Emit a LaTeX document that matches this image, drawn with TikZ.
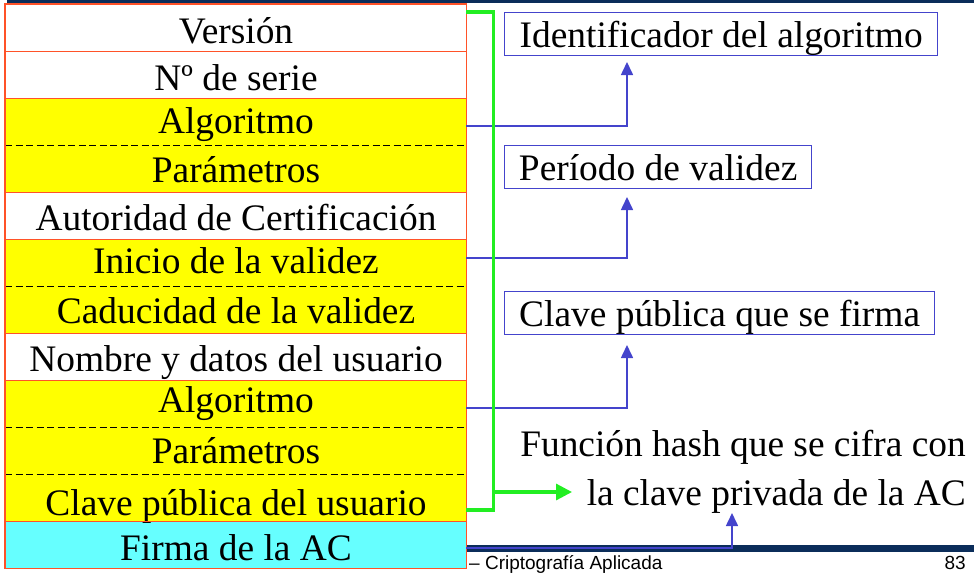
\documentclass[tikz,border=0pt]{standalone}
\usepackage{fontspec}
\setmainfont{Liberation Serif}
\newfontfamily\footfont{Liberation Sans}
\usetikzlibrary{arrows.meta}
\definecolor{rowline}{HTML}{FF5228}
\definecolor{ylw}{HTML}{FFFF00}
\definecolor{cyn}{HTML}{66FFFF}
\definecolor{blu}{HTML}{4444CC}
\definecolor{grn}{HTML}{22EE22}
\definecolor{navy}{HTML}{0B2D5A}
\begin{document}
\begin{tikzpicture}[x=1pt,y=-1pt,
  cell/.style={minimum width=461pt, minimum height=47pt, inner sep=0pt, anchor=north west},
  celltxt/.style={anchor=base, inner sep=0pt, font=\fontsize{37.4}{37.4}\selectfont},
  lbl/.style={draw=blu, line width=1.3pt, anchor=north west, inner sep=0pt, minimum height=43pt, text height=34pt, text depth=8pt, font=\fontsize{37.4}{37.4}\selectfont},
  hashtxt/.style={anchor=base east, inner sep=0pt, font=\fontsize{37.4}{37.4}\selectfont},
  foottxt/.style={inner sep=0pt, font=\footfont\fontsize{19}{19}\selectfont},
  barrow/.style={draw=blu, line width=1.6pt, -{Triangle[length=13pt,width=12pt]}},
  gline/.style={draw=grn, line width=3.2pt},
  sep/.style={draw=rowline, line width=1.5pt},
  dsep/.style={draw=black, line width=1.6pt, dash pattern=on 7pt off 3.5pt}
]
\useasboundingbox (0,0) rectangle (974,573);
% bars
\fill[navy] (7,0) rectangle (974,3);
\fill[navy] (466,545) rectangle (974,552);
% footer
\node[foottxt, anchor=base west] (foot) at (469,569) {– Criptografía Aplicada};
\node[foottxt, anchor=base east] (page) at (966,569) {83};
% cells
\node[cell, fill=white] (r1) at (5,4) {};
\node[cell, fill=white] (r2) at (5,51) {};
\node[cell, fill=ylw] (r3) at (5,98) {};
\node[cell, fill=ylw] (r4) at (5,145) {};
\node[cell, fill=white] (r5) at (5,192) {};
\node[cell, fill=ylw] (r6) at (5,239) {};
\node[cell, fill=ylw] (r7) at (5,286) {};
\node[cell, fill=white] (r8) at (5,333) {};
\node[cell, fill=ylw] (r9) at (5,380) {};
\node[cell, fill=ylw] (r10) at (5,427) {};
\node[cell, fill=ylw] (r11) at (5,474) {};
\node[cell, fill=cyn] (r12) at (5,521) {};
% cell texts
\node[celltxt] (l1) at (236,43.3) {Versión};
\node[celltxt] (l2) at (236,90.7) {Nº de serie};
\node[celltxt] (l3) at (236,133) {Algoritmo};
\node[celltxt] (l4) at (236,182.7) {Parámetros};
\node[celltxt] (l5) at (236,230.7) {Autoridad de Certificación};
\node[celltxt] (l6) at (236,273.3) {Inicio de la validez};
\node[celltxt] (l7) at (236,323.3) {Caducidad de la validez};
\node[celltxt] (l8) at (236,371.7) {Nombre y datos del usuario};
\node[celltxt] (l9) at (236,412.3) {Algoritmo};
\node[celltxt] (l10) at (236,463.3) {Parámetros};
\node[celltxt] (l11) at (236,515) {Clave pública del usuario};
\node[celltxt] (l12) at (236,560) {Firma de la AC};
% separators
\foreach \a in {r1,r2,r4,r5,r7,r8,r11}
  \draw[sep] (\a.south west) -- (\a.south east);
\foreach \a in {r3,r6,r9,r10}
  \draw[dsep] (\a.south west) -- (\a.south east);
\draw[sep] (r1.north west) rectangle (r12.south east);
% label boxes
\node[lbl, minimum width=433pt] (id) at (504,12) {Identificador del algoritmo};
\node[lbl, minimum width=307pt] (per) at (504,145) {Período de validez};
\node[lbl, minimum width=430pt] (cp) at (504,291) {Clave pública que se firma};
\node[hashtxt] (hash1) at (966,456) {Función hash que se cifra con};
\node[hashtxt] (hash2) at (966,505) {la clave privada de la AC};
% blue connectors
\coordinate (t1) at (627,62);
\coordinate (t2) at (627,197);
\coordinate (t3) at (627,345);
\coordinate (t4) at (732,513);
\draw[barrow] (r3.east |- 0,126) -| (t1);
\draw[barrow] (r6.east |- 0,258) -| (t2);
\draw[barrow] (r9.east |- 0,408) -| (t3);
\draw[barrow] (r12.east |- 0,548) -| (t4);
% green bracket
\coordinate (gt) at (493.5,12);
\coordinate (gb) at (493.5,510);
\coordinate (ga) at (572,492);
\draw[gline] (r1.east |- gt) -- (gt) -- (gb) -- (r11.east |- gb);
\draw[gline, -{Triangle[length=16pt,width=16pt]}] (gt |- ga) -- (ga);
\end{tikzpicture}
\end{document}
